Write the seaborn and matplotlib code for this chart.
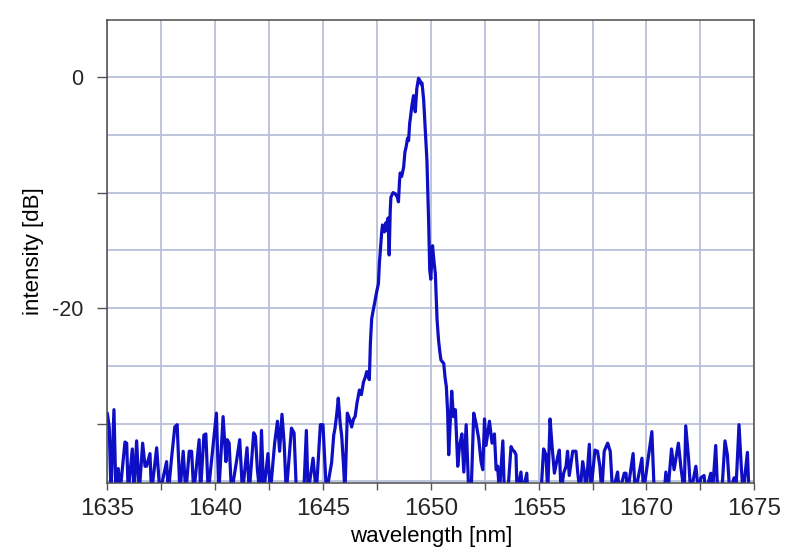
import numpy as np
import pandas as pd
import matplotlib
matplotlib.use("Agg")
import matplotlib.pyplot as plt
import seaborn as sns
from matplotlib.ticker import MultipleLocator

# ---- data ----
FLOOR = -36.0  # below the plotted range (trace clipped at bottom)

left_wl = [1635.00, 1635.09, 1635.17, 1635.31, 1635.40, 1635.51, 1635.59, 1635.82, 1635.90, 1635.97,
           1636.16, 1636.24, 1636.36, 1636.48, 1636.64, 1636.75, 1636.82, 1636.98, 1637.05, 1637.29,
           1637.44, 1637.75, 1637.83, 1637.98, 1638.13, 1638.24, 1638.37, 1638.52, 1638.64, 1638.80,
           1638.91, 1639.01, 1639.26, 1639.32, 1639.48, 1639.57, 1639.68, 1640.06, 1640.17, 1640.37,
           1640.50, 1640.56, 1640.65, 1640.76, 1640.99, 1641.14, 1641.27, 1641.48, 1641.58, 1641.79,
           1641.87, 1641.96, 1642.07, 1642.15, 1642.25, 1642.45, 1642.56, 1642.76, 1642.89, 1642.99,
           1643.10, 1643.20, 1643.30, 1643.54, 1643.66, 1643.77, 1644.11, 1644.23, 1644.31, 1644.54,
           1644.69, 1644.88, 1645.00, 1645.16]
left_db = [-29.1, -30.3, FLOOR, -28.8, FLOOR, -33.9, FLOOR, -31.6, -31.7, FLOOR,
           -32.2, FLOOR, -31.5, FLOOR, -31.7, -33.7, -33.7, -32.6, FLOOR, -32.1,
           FLOOR, -33.3, FLOOR, -33.0, -30.3, -30.1, FLOOR, -32.4, FLOOR, -32.4,
           -32.4, FLOOR, -31.4, FLOOR, -31.0, -30.9, FLOOR, -29.1, FLOOR, -29.4,
           -33.3, -31.4, -31.7, FLOOR, -33.3, -31.4, FLOOR, -32.1, FLOOR, -30.8,
           -31.1, -34.0, FLOOR, -30.6, FLOOR, -32.6, FLOOR, -31.7, -29.8, -32.4,
           -29.2, -31.7, FLOOR, -30.4, -30.8, FLOOR, FLOOR, -30.6, FLOOR, -33.0,
           FLOOR, -30.1, -30.1, FLOOR]

peak_wl = [1645.40, 1645.50, 1645.56, 1645.65, 1645.71, 1645.80, 1645.87, 1645.95, 1646.02, 1646.13,
           1646.25, 1646.33, 1646.42, 1646.49, 1646.58, 1646.69, 1646.78, 1646.88, 1646.96, 1647.03,
           1647.10, 1647.15, 1647.20, 1647.26, 1647.35, 1647.42, 1647.50, 1647.57, 1647.62, 1647.65,
           1647.72, 1647.76, 1647.85, 1647.92, 1647.96, 1648.02, 1648.07, 1648.12, 1648.15, 1648.25,
           1648.35, 1648.45, 1648.50, 1648.55, 1648.58, 1648.65, 1648.74, 1648.80, 1648.86, 1648.92,
           1648.97, 1649.02, 1649.05, 1649.12, 1649.20, 1649.25, 1649.28, 1649.35, 1649.43, 1649.50,
           1649.55, 1649.59, 1649.63, 1649.67, 1649.74, 1649.82, 1649.90, 1649.95, 1650.00, 1650.08,
           1650.15, 1650.21, 1650.29, 1650.36, 1650.42, 1650.47, 1650.60, 1650.66, 1650.72, 1650.78,
           1650.83]
peak_db = [-33.4, -31.0, -30.4, -29.0, -27.8, -30.0, -31.1, -33.5, FLOOR, -29.1,
           -29.7, -30.3, -29.6, -29.4, -28.2, -27.1, -27.5, -26.4, -26.0, -25.5,
           -25.9, -26.2, -23.0, -20.9, -20.0, -19.3, -18.5, -17.9, -16.0, -15.3,
           -13.5, -12.8, -13.4, -12.6, -13.3, -12.2, -15.4, -11.5, -10.4, -10.0,
           -10.1, -10.4, -10.8, -9.0, -8.3, -8.6, -7.8, -6.5, -6.0, -5.3,
           -5.5, -4.0, -3.6, -2.5, -1.6, -2.6, -3.0, -1.0, -0.1, -0.3,
           -0.6, -0.5, -1.2, -2.0, -4.5, -7.2, -12.5, -16.7, -17.5, -14.6,
           -16.0, -17.0, -21.0, -22.8, -23.8, -24.5, -24.8, -26.0, -26.8, -29.0,
           -32.7]

right_wl = [1650.97, 1651.05, 1651.14, 1651.25, 1651.33, 1651.44, 1651.53, 1651.64, 1651.76, 1651.87,
            1651.99, 1652.10, 1652.22, 1652.33, 1652.41, 1652.49, 1652.56, 1652.72, 1652.84, 1652.95,
            1653.03, 1653.10, 1653.18, 1653.34, 1653.41, 1653.57, 1653.72, 1653.80, 1653.87, 1653.95,
            1654.00, 1654.18, 1654.26, 1654.45, 1654.49, 1655.11, 1655.23, 1655.34, 1655.42, 1655.53,
            1655.62, 1655.73, 1655.88, 1655.96, 1656.04, 1656.16, 1656.27, 1656.34, 1656.42, 1656.58,
            1656.73, 1656.81, 1656.92, 1657.04, 1657.13, 1657.19, 1657.35, 1657.42, 1657.61, 1657.73,
            1657.84, 1657.93, 1658.04, 1658.20, 1658.32, 1658.43, 1658.66, 1658.74, 1658.97, 1659.05,
            1659.12, 1659.38, 1659.48, 1659.79, 1659.86, 1660.13, 1660.25, 1660.36, 1660.82, 1660.90,
            1660.99, 1661.16, 1661.28, 1661.48, 1661.59, 1661.75, 1661.82, 1661.95, 1662.05, 1662.29,
            1662.41, 1662.52, 1662.67, 1662.75, 1662.98, 1663.06, 1663.21, 1663.30, 1663.49, 1663.64,
            1663.75, 1663.86, 1664.06, 1664.14, 1664.29, 1664.40, 1664.48, 1664.68, 1664.75, 1665.00]
right_db = [-27.2, -29.4, -28.8, -33.7, -32.0, -30.9, -34.2, -30.1, FLOOR, FLOOR,
            -29.1, -30.0, -31.3, -33.3, -34.0, -29.6, -31.9, -29.8, -31.7, -30.9,
            -34.0, -33.7, FLOOR, -31.5, FLOOR, FLOOR, -32.0, -32.3, -32.4, -32.7,
            FLOOR, -34.2, FLOOR, -34.3, FLOOR, FLOOR, -32.2, -32.7, FLOOR, -29.6,
            -31.9, -34.3, -32.9, -32.3, FLOOR, -34.3, -33.7, -32.4, -34.5, -32.4,
            -32.4, -34.2, FLOOR, -33.3, -34.3, FLOOR, -31.8, FLOOR, -32.3, -32.4,
            -33.7, FLOOR, -32.4, -31.7, -32.4, FLOOR, -34.2, FLOOR, -34.3, -34.3,
            FLOOR, -32.6, FLOOR, -33.0, FLOOR, -32.3, -30.7, FLOOR, FLOOR, -34.2,
            FLOOR, -32.2, -34.0, -31.7, -33.7, FLOOR, -30.2, -33.0, FLOOR, -33.7,
            FLOOR, -34.7, -34.5, FLOOR, -34.3, FLOOR, -31.9, FLOOR, FLOOR, -31.5,
            -32.7, FLOOR, -34.7, FLOOR, -30.1, -33.9, FLOOR, -32.5, FLOOR, FLOOR]

x_tick_values = [1635, 1640, 1645, 1650, 1655, 1660, 1665]
x_tick_labels = ["1635", "1640", "1645", "1650", "1655", "1670", "1675"]
y_tick_values = [0, -10, -20, -30]
y_tick_labels = ["0", "", "-20", ""]

df = pd.DataFrame({
    "wavelength": left_wl + peak_wl + right_wl,
    "intensity": left_db + peak_db + right_db,
})

# ---- plot ----
sns.set_theme(style="white")
plt.rcParams["font.family"] = ["Liberation Sans", "DejaVu Sans"]

fig = plt.figure(figsize=(8, 5.6), dpi=100)
ax = fig.add_axes([0.1341, 0.1375, 0.8088, 0.8268])

grid_color = "#b8bfda"
ax.set_axisbelow(True)

sns.lineplot(data=df, x="wavelength", y="intensity", sort=False, estimator=None,
             color="#0e0ec4", linewidth=2.3, ax=ax, zorder=3)

ax.set_xlim(1635, 1665)
ax.set_ylim(-35.15, 4.95)

ax.set_xticks(x_tick_values)
ax.set_xticklabels(x_tick_labels, fontsize=17.5)
ax.xaxis.set_minor_locator(MultipleLocator(2.5))
ax.set_yticks(y_tick_values)
ax.set_yticklabels(y_tick_labels, fontsize=15.5)
ax.yaxis.set_minor_locator(MultipleLocator(5))

ax.grid(True, which="both", color=grid_color, linewidth=1.3)
ax.tick_params(axis="x", which="both", direction="out", length=5, width=1,
               color="#555555", bottom=True, pad=6)
ax.tick_params(axis="y", which="major", direction="out", length=7, width=1,
               color="#555555", left=True, pad=10)
ax.tick_params(axis="y", which="minor", length=0)

for s in ax.spines.values():
    s.set_color("#4a4a4a")
    s.set_linewidth(1.1)
    s.set_zorder(4)

ax.set_xlabel("wavelength [nm]", fontsize=16, labelpad=4, color="black")
ax.set_ylabel("intensity [dB]", fontsize=16, labelpad=6, color="black")

fig.savefig("out.png", dpi=100, facecolor="white")
